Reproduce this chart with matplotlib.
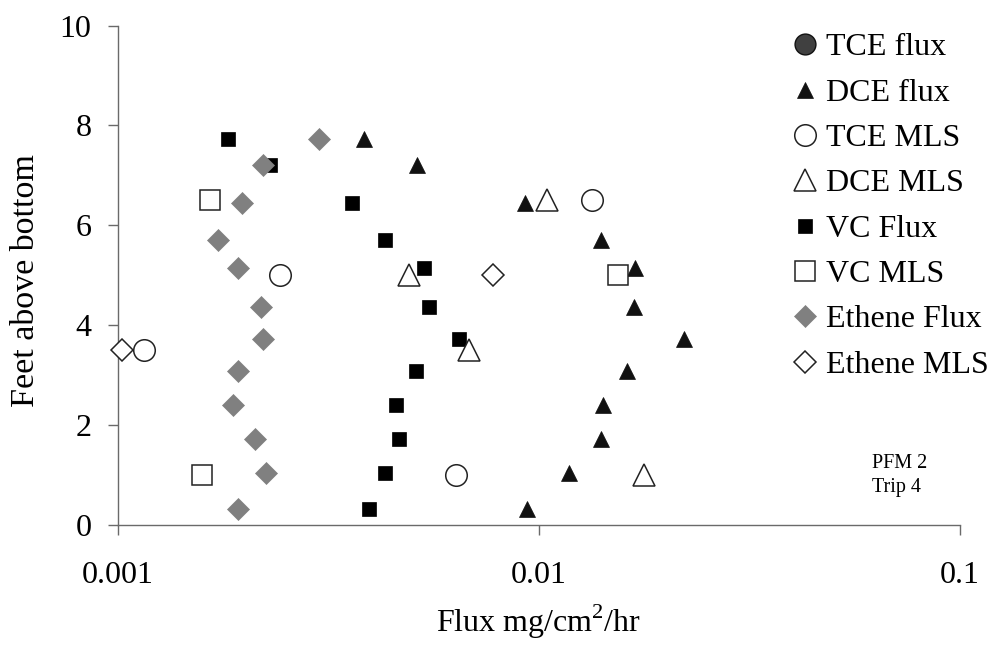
import numpy as np
import matplotlib
matplotlib.use("Agg")
import matplotlib.pyplot as plt

plt.rcParams['font.family'] = ['Liberation Serif', 'DejaVu Serif']
plt.rcParams['mathtext.fontset'] = 'custom'
plt.rcParams['mathtext.rm'] = 'Liberation Serif'

# Depths of the passive flux meter intervals (feet above bottom)
flux_depth = [7.72, 7.2, 6.45, 5.7, 5.15, 4.37, 3.73, 3.08, 2.4, 1.73, 1.04, 0.32]

# Flux values, mg/cm^2/hr
tce_flux = []
dce_flux = [0.00383, 0.00513, 0.00926, 0.0140, 0.0169, 0.0168, 0.0221,
            0.0162, 0.0142, 0.0140, 0.0118, 0.00935]
vc_flux = [0.00183, 0.00230, 0.00359, 0.00431, 0.00533, 0.00548, 0.00645,
           0.00509, 0.00458, 0.00465, 0.00431, 0.00395]
ethene_flux = [0.00300, 0.00221, 0.00197, 0.00173, 0.00193, 0.00219, 0.00221,
               0.00193, 0.00188, 0.00212, 0.00225, 0.00193]

# Multilevel sampler results
tce_mls_depth = [6.5, 5.0, 3.5, 1.0]
tce_mls = [0.01334, 0.00243, 0.00115, 0.00635]
dce_mls_depth = [6.5, 5.0, 3.5, 1.0]
dce_mls = [0.01045, 0.0049, 0.00683, 0.01776]
vc_mls_depth = [6.5, 5.0, 1.0]
vc_mls = [0.00165, 0.01538, 0.00158]
ethene_mls_depth = [5.0, 3.5]
ethene_mls = [0.00778, 0.00102]

x_ticks = [0.001, 0.01, 0.1]
x_tick_labels = ['0.001', '0.01', '0.1']
y_ticks = [0, 2, 4, 6, 8, 10]

fig = plt.figure(figsize=(10, 6.46), dpi=100)
ax = fig.add_axes([0.118, 0.1873, 0.842, 0.7732])

edge = '#222222'
common = dict(linestyle='none', clip_on=False)

ax.plot(tce_flux, [], marker='o', ms=15, mfc='#404040', mec='#111111', mew=1.0,
        label='TCE flux', **common)
ax.plot(dce_flux, flux_depth, marker='^', ms=12, mfc='#111111', mec='#111111', mew=0.5,
        label='DCE flux', **common)
ax.plot(tce_mls, tce_mls_depth, marker='o', ms=15.5, mfc='white', mec=edge, mew=1.1,
        label='TCE MLS', zorder=3, **common)
ax.plot(dce_mls, dce_mls_depth, marker='^', ms=16, mfc='white', mec=edge, mew=1.1,
        label='DCE MLS', zorder=3, **common)
ax.plot(vc_flux, flux_depth, marker='s', ms=10.5, mfc='black', mec='black', mew=0.5,
        label='VC Flux', **common)
ax.plot(vc_mls, vc_mls_depth, marker='s', ms=14, mfc='white', mec=edge, mew=1.1,
        label='VC MLS', zorder=3, **common)
ax.plot(ethene_flux, flux_depth, marker='D', ms=11.5, mfc='#808080', mec='#808080', mew=0.5,
        label='Ethene Flux', zorder=2.5, **common)
ax.plot(ethene_mls, ethene_mls_depth, marker='D', ms=11, mfc='white', mec=edge, mew=1.1,
        label='Ethene MLS', zorder=3, **common)

ax.set_xscale('log')
ax.set_xlim(0.001, 0.1)
ax.set_ylim(0, 10)
ax.set_xticks(x_ticks)
ax.set_xticklabels(x_tick_labels)
ax.xaxis.set_minor_locator(matplotlib.ticker.NullLocator())
ax.set_yticks(y_ticks)

for s in ['top', 'right']:
    ax.spines[s].set_visible(False)
for s in ['left', 'bottom']:
    ax.spines[s].set_color('#6a6a6a')
    ax.spines[s].set_linewidth(1.0)

ax.tick_params(axis='both', direction='out', length=7, width=1.0, color='#6a6a6a',
               labelsize=23, labelcolor='black')
ax.tick_params(axis='y', pad=12)
ax.tick_params(axis='x', pad=19)

ax.set_xlabel(r'Flux mg/cm$^{2}$/hr', fontsize=23, labelpad=9)
ax.set_ylabel('Feet above bottom', fontsize=24.5)
ax.yaxis.set_label_coords(-0.091, 0.49)

ax.text(0.0618, 1.14, 'PFM 2', fontsize=14.5, ha='left', va='baseline')
ax.text(0.0618, 0.66, 'Trip 4', fontsize=14.5, ha='left', va='baseline')

leg = ax.legend(loc='upper left', bbox_to_anchor=(0.794, 1 - 33 / 646),
                bbox_transform=fig.transFigure, frameon=False, fontsize=23,
                numpoints=1, handlelength=0.7, handletextpad=0.3,
                labelspacing=0.5, borderpad=0, borderaxespad=0)

fig.savefig('out.png', dpi=100)
